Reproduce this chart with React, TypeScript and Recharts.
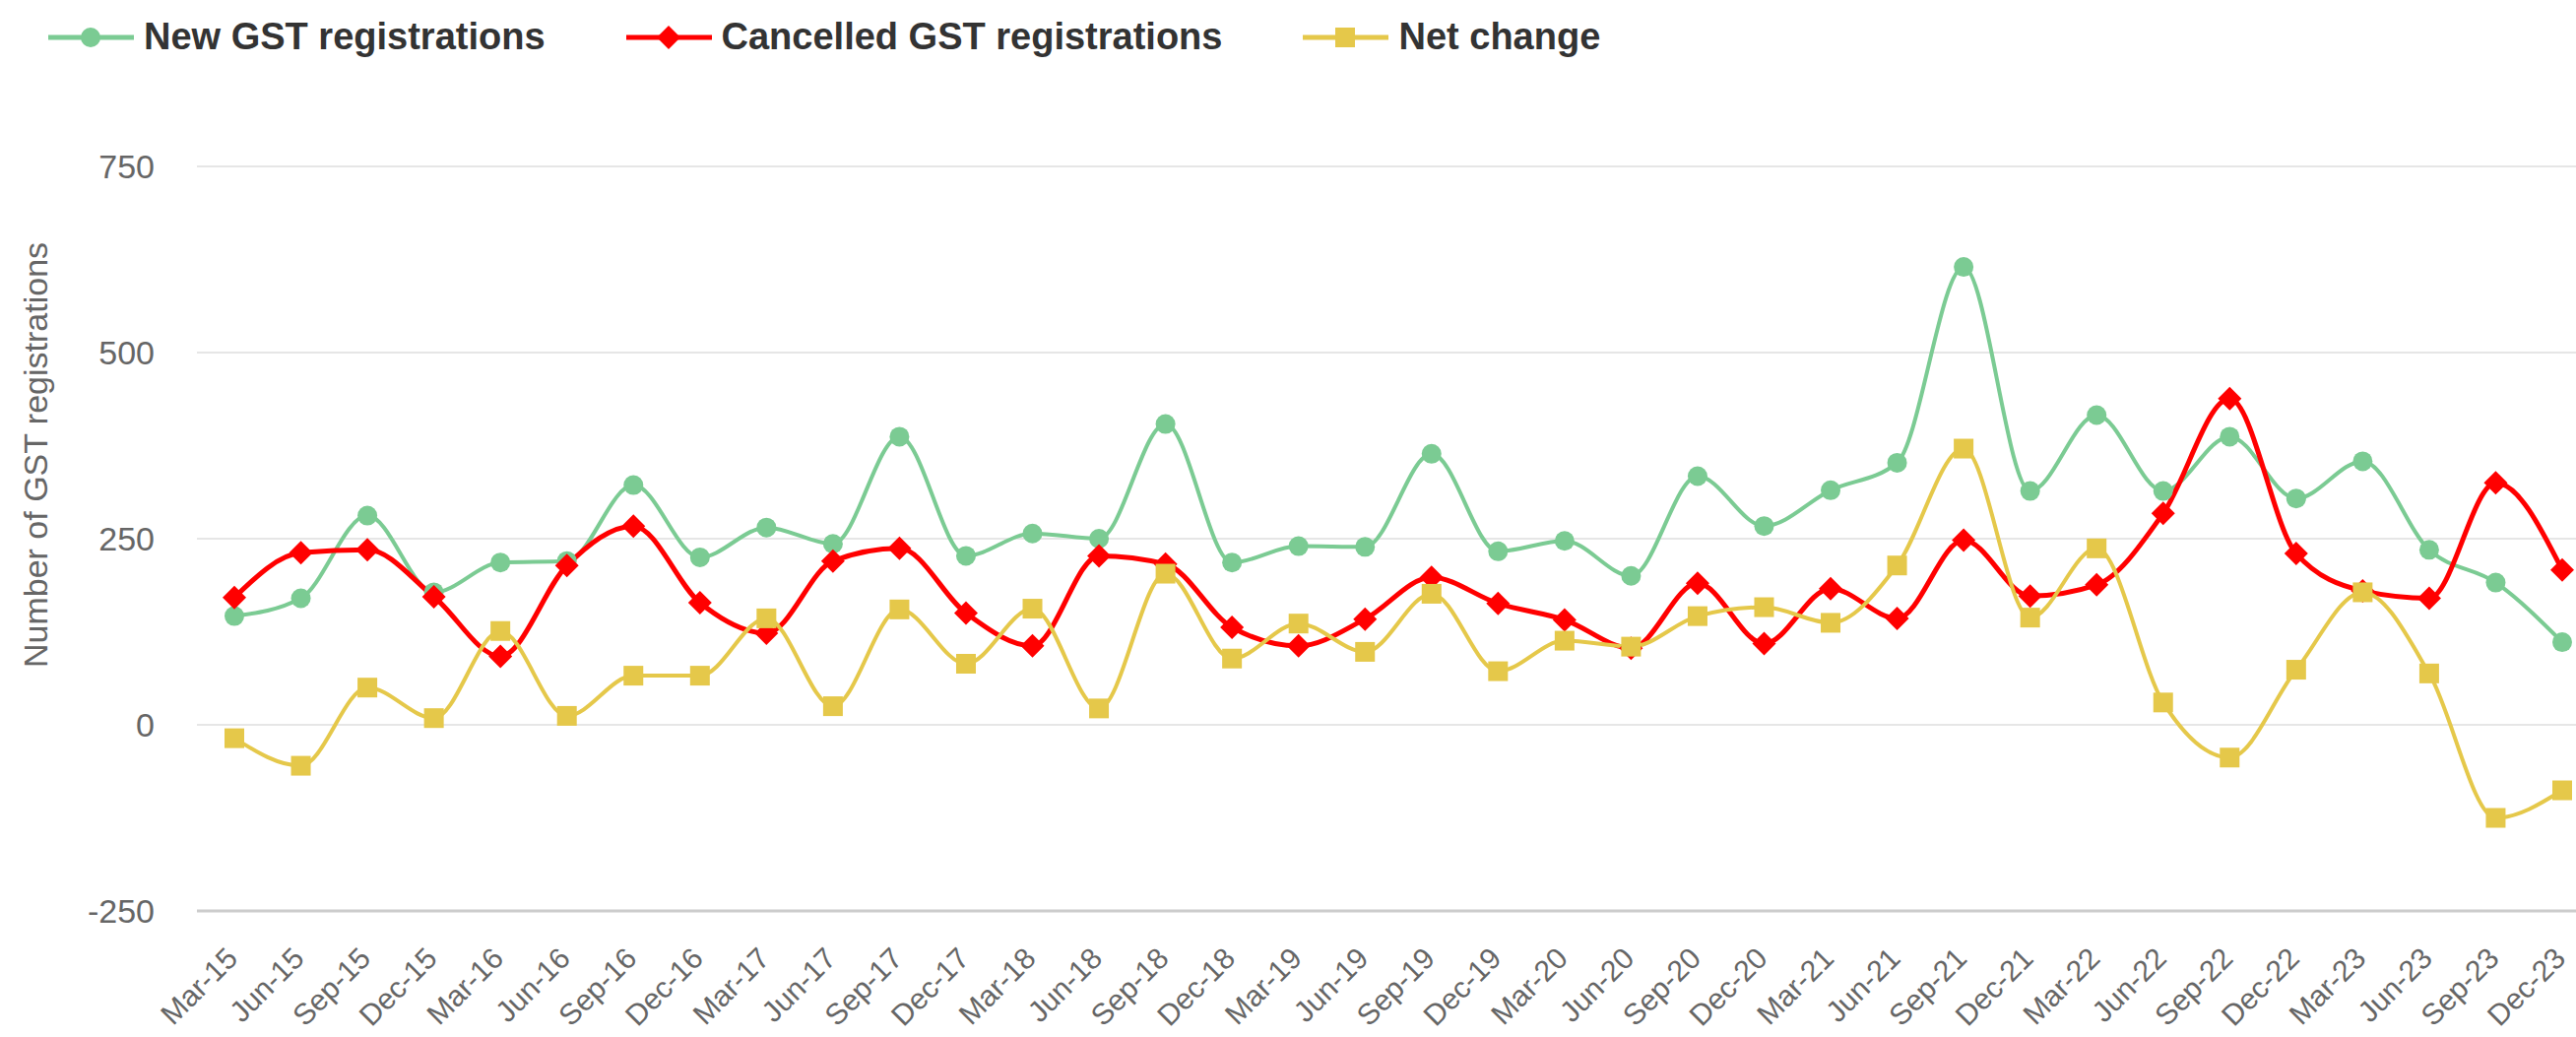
import { LineChart, Line, XAxis, YAxis, CartesianGrid, Label } from "recharts";

const quarters = [
  "Mar-15", "Jun-15", "Sep-15", "Dec-15",
  "Mar-16", "Jun-16", "Sep-16", "Dec-16",
  "Mar-17", "Jun-17", "Sep-17", "Dec-17",
  "Mar-18", "Jun-18", "Sep-18", "Dec-18",
  "Mar-19", "Jun-19", "Sep-19", "Dec-19",
  "Mar-20", "Jun-20", "Sep-20", "Dec-20",
  "Mar-21", "Jun-21", "Sep-21", "Dec-21",
  "Mar-22", "Jun-22", "Sep-22", "Dec-22",
  "Mar-23", "Jun-23", "Sep-23", "Dec-23",
];

const newRegistrations = [
  146, 170, 281, 178, 218, 220, 322, 225, 265, 243, 387, 227,
  257, 250, 404, 218, 240, 239, 364, 233, 247, 200, 334, 267,
  315, 352, 615, 314, 416, 314, 387, 304, 354, 235, 191, 111,
];

const cancelledRegistrations = [
  171, 231, 235, 172, 92, 214, 267, 164, 123, 220, 237, 150,
  106, 227, 216, 131, 106, 142, 198, 163, 141, 103, 190, 109,
  183, 143, 248, 173, 188, 284, 438, 230, 180, 170, 325, 208,
];

const netChange = [
  -18, -55, 50, 9, 126, 12, 66, 66, 143, 25, 155, 82,
  156, 22, 203, 89, 136, 98, 176, 72, 113, 105, 146, 158,
  137, 214, 371, 144, 237, 30, -44, 74, 178, 69, -125, -88,
];

const yTicks = [-250, 0, 250, 500, 750];

const data = quarters.map((quarter, i) => ({
  quarter,
  added: newRegistrations[i],
  cancelled: cancelledRegistrations[i],
  net: netChange[i],
}));

const GREEN = "#7bcb93";
const RED = "#ff0000";
const YELLOW = "#e5c84a";
const FONT = "'Liberation Sans', Arial, sans-serif";

function QuarterTick({ x, y, payload }: any) {
  return (
    <g transform={`translate(${x + 5},${y + 50})`}>
      <text textAnchor="end" transform="rotate(-45)" fill="#666666" fontSize={30} fontFamily={FONT}>
        {payload.value}
      </text>
    </g>
  );
}

function Diamond({ cx, cy, size = 12, color }: any) {
  return (
    <path
      d={`M${cx},${cy - size} L${cx + size},${cy} L${cx},${cy + size} L${cx - size},${cy} Z`}
      fill={color}
    />
  );
}

function Square({ cx, cy, size = 10, color }: any) {
  return <rect x={cx - size} y={cy - size} width={size * 2} height={size * 2} fill={color} />;
}

function LegendItem({ color, label, shape }: { color: string; label: string; shape: string }) {
  return (
    <div style={{ display: "flex", alignItems: "center" }}>
      <svg width={87} height={30} style={{ marginRight: 10 }}>
        <line x1={0} y1={15} x2={87} y2={15} stroke={color} strokeWidth={5} />
        {shape === "circle" && <circle cx={43} cy={15} r={10} fill={color} />}
        {shape === "diamond" && <Diamond cx={43} cy={15} size={12} color={color} />}
        {shape === "square" && <Square cx={43} cy={15} size={10} color={color} />}
      </svg>
      <span style={{ fontSize: 38, fontWeight: "bold", color: "#333333", fontFamily: FONT }}>{label}</span>
    </div>
  );
}

export default function App() {
  return (
    <div
      style={{
        position: "absolute",
        left: 0,
        top: 0,
        width: 2616,
        height: 1053,
        background: "#ffffff",
        fontFamily: FONT,
        overflow: "hidden",
      }}
    >
      <div style={{ position: "absolute", left: 49, top: 16, display: "flex", gap: 82 }}>
        <LegendItem color={GREEN} label="New GST registrations" shape="circle" />
        <LegendItem color={RED} label="Cancelled GST registrations" shape="diamond" />
        <LegendItem color={YELLOW} label="Net change" shape="square" />
      </div>
      <LineChart width={2616} height={1053} data={data} margin={{ top: 169, right: 0, bottom: 0, left: 0 }}>
        <CartesianGrid vertical={false} stroke="#e6e6e6" strokeWidth={2} />
        <XAxis
          dataKey="quarter"
          interval={0}
          height={128}
          padding={{ left: 38, right: 14 }}
          tickLine={false}
          tickSize={0}
          tickMargin={0}
          axisLine={{ stroke: "#cccccc", strokeWidth: 3 }}
          tick={<QuarterTick />}
        />
        <YAxis
          width={200}
          domain={[-250, 750]}
          ticks={yTicks}
          axisLine={false}
          tickLine={false}
          tickSize={0}
          tickMargin={43}
          tick={{ fill: "#666666", fontSize: 34, fontFamily: FONT }}
        >
          <Label
            content={({ viewBox }: any) => {
              const cy = viewBox.y + viewBox.height / 2 - 85;
              return (
                <text
                  x={36}
                  y={cy}
                  transform={`rotate(-90 36 ${cy})`}
                  textAnchor="middle"
                  dominantBaseline="central"
                  fill="#666666"
                  fontSize={34}
                  fontFamily={FONT}
                >
                  Number of GST registrations
                </text>
              );
            }}
          />
        </YAxis>
        <Line
          type="monotone"
          dataKey="added"
          stroke={GREEN}
          strokeWidth={4}
          dot={{ r: 10, fill: GREEN, stroke: GREEN, strokeWidth: 0 }}
          activeDot={false}
          isAnimationActive={false}
        />
        <Line
          type="monotone"
          dataKey="cancelled"
          stroke={RED}
          strokeWidth={5}
          dot={(p: any) => <Diamond key={`c-${p.index}`} cx={p.cx} cy={p.cy} size={12} color={RED} />}
          activeDot={false}
          isAnimationActive={false}
        />
        <Line
          type="monotone"
          dataKey="net"
          stroke={YELLOW}
          strokeWidth={4}
          dot={(p: any) => <Square key={`n-${p.index}`} cx={p.cx} cy={p.cy} size={10} color={YELLOW} />}
          activeDot={false}
          isAnimationActive={false}
        />
      </LineChart>
    </div>
  );
}
